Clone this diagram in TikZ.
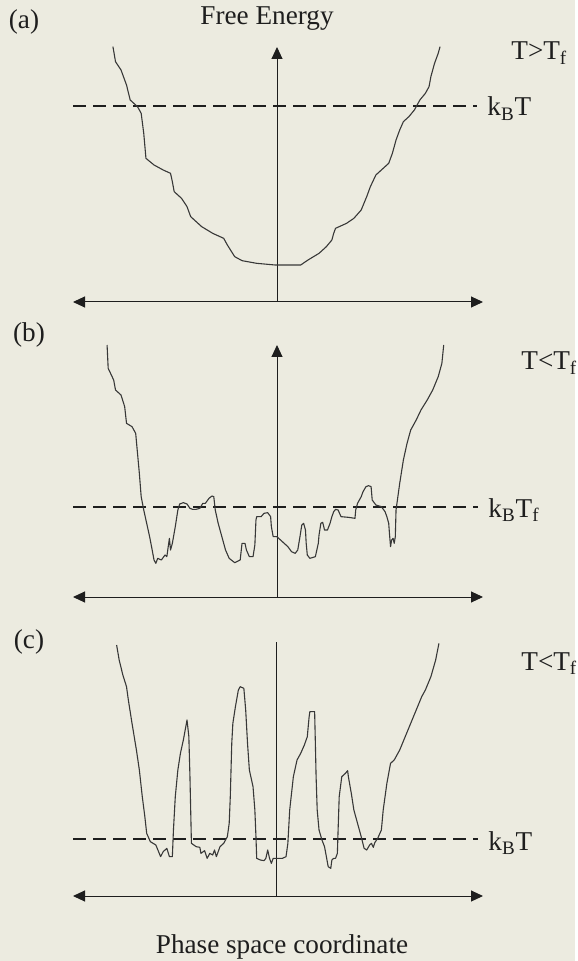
\documentclass[tikz,border=0pt]{standalone}
\usepackage{fontspec}
\setmainfont{Liberation Serif}
\usetikzlibrary{arrows.meta}
\definecolor{PaperBg}{HTML}{ECEBE0}
\definecolor{InkBlack}{HTML}{1E1E1E}
\definecolor{InkGrey}{HTML}{383838}
\tikzset{
    % Axes with filled triangle tips
    axis up/.style={
        -{Triangle[length=6pt,width=5.5pt]},
        line width=0.5pt,
        color=InkBlack
    },
    axis plain/.style={
        line width=0.5pt,
        color=InkBlack
    },
    axis both/.style={
        {Triangle[length=6pt,width=5.5pt]}-{Triangle[length=6pt,width=5.5pt]},
        line width=0.5pt,
        color=InkBlack
    },
    level line/.style={
        line width=0.9pt,
        dash pattern=on 6.5pt off 3.5pt,
        color=InkBlack
    },
    landscape/.style={
        line width=0.55pt,
        color=InkGrey,
        line join=round
    },
    label text/.style={
        inner sep=0pt,
        text=InkBlack,
        font=\fontsize{13.6}{16}\selectfont
    }
}

\begin{document}
\begin{tikzpicture}[x=0.5pt, y=-0.5pt]
        % Paper
        \fill[PaperBg] (0,0) rectangle (575,961);

        % Panel labels and titles
        \node[label text, anchor=base] (lbla) at (24,29) {(a)};
        \node[label text, anchor=base] (lblb) at (29,342) {(b)};
        \node[label text, anchor=base] (lblc) at (29,648) {(c)};
        \node[label text, anchor=base] (energy) at (267,25) {Free Energy};
        \node[label text, anchor=base] (phase) at (282,953) {Phase space coordinate};

        % Temperature labels
        \node[label text, anchor=base west] (tempa) at (511,60) {T>T\textsubscript{f}};
        \node[label text, anchor=base west] (tempb) at (521,370) {T<T\textsubscript{f}};
        \node[label text, anchor=base west] (tempc) at (521,670) {T<T\textsubscript{f}};

        % Axis end points
        \coordinate (atop) at (277,47);
        \coordinate (abot) at (277,302);
        \coordinate (aleft) at (73,302);
        \coordinate (aright) at (483,302);
        \coordinate (btop) at (277,345);
        \coordinate (bbot) at (277,597);
        \coordinate (bleft) at (73,597);
        \coordinate (bright) at (483,597);
        \coordinate (ctop) at (276,642);
        \coordinate (cbot) at (276,896);
        \coordinate (cleft) at (73,896);
        \coordinate (cright) at (483,896);

        % Axes
        \draw[axis up] (abot) -- (atop);
        \draw[axis both] (aleft) -- (aright);
        \draw[axis up] (bbot) -- (btop);
        \draw[axis both] (bleft) -- (bright);
        \draw[axis plain] (cbot) -- (ctop);
        \draw[axis both] (cleft) -- (cright);

        % Thermal energy levels
        \node[label text, anchor=base west] (kta) at (487,116) {k\textsubscript{B}T};
        \node[label text, anchor=base west] (ktb) at (488,517) {k\textsubscript{B}T\textsubscript{f}};
        \node[label text, anchor=base west] (ktc) at (488,850) {k\textsubscript{B}T};
        \coordinate (dasha) at (73,106);
        \coordinate (dashb) at (73,507);
        \coordinate (dashc) at (73,839);
        \draw[level line] (dasha) -- ([xshift=-5pt]kta.west |- dasha);
        \draw[level line] (dashb) -- ([xshift=-5pt]ktb.west |- dashb);
        \draw[level line] (dashc) -- ([xshift=-5pt]ktc.west |- dashc);

        % Landscape (a)
        \begin{scope}[xscale=575/1568, yscale=1/3]
        \draw[landscape] plot coordinates {
            (308,140) (315,185) (330,210) (345,255) (355,300) (375,320) (385,340)
            (392,400) (398,475) (420,495) (445,510) (465,520) (470,545) (475,575)
            (495,595) (510,620) (520,650) (550,680) (580,700) (610,715) (620,735)
            (640,770) (660,782) (700,790) (750,795) (820,795) (840,780) (870,760)
            (890,740) (905,720) (910,700) (915,685) (945,670) (965,655) (985,630)
            (1000,590) (1010,560) (1025,525) (1040,510) (1050,500) (1060,490)
            (1070,460) (1080,420) (1090,390) (1100,365) (1115,350) (1130,330)
            (1145,300) (1160,280) (1170,260) (1175,230) (1185,190) (1195,160) (1200,140)};
        \end{scope}

        % Landscape (b)
        \begin{scope}[shift={(0,310)}, xscale=575/1568, yscale=1/3]
        \draw[landscape] plot coordinates {
            (292,105) (295,175) (310,210) (315,240) (330,255) (340,290) (345,340)
            (360,350) (370,370) (375,430) (380,490) (385,560) (392,600) (400,640)
            (408,680) (415,720) (420,750) (425,760) (430,745) (440,750) (450,735)
            (455,740) (460,700) (462,685) (465,720) (470,700) (478,650) (485,600)
            (490,582) (500,578) (510,582) (518,595) (525,598) (535,598) (545,595)
            (553,580) (560,580) (570,565) (578,558) (583,560) (587,600) (595,640)
            (605,680) (615,720) (625,745) (640,758) (655,750) (660,700) (668,700)
            (672,720) (680,740) (690,740) (695,705) (698,630) (700,620) (712,620)
            (720,610) (730,608) (738,620) (740,650) (745,680) (755,680) (770,695)
            (785,710) (795,725) (805,730) (812,720) (818,680) (823,645) (828,640)
            (833,660) (835,700) (838,735) (845,745) (860,740) (868,700) (870,675)
            (875,640) (880,637) (885,660) (893,660) (900,640) (905,620) (910,605)
            (915,598) (922,600) (930,620) (950,622) (968,625) (970,600) (975,580)
            (985,560) (990,545) (998,530) (1005,527) (1012,530) (1015,570)
            (1025,585) (1040,590) (1050,605) (1055,620) (1060,640) (1062,670)
            (1065,710) (1068,690) (1072,685) (1075,700) (1078,680) (1080,600)
            (1090,520) (1100,450) (1110,400) (1120,360) (1135,330) (1148,300)
            (1165,270) (1180,240) (1195,200) (1205,160) (1210,105)};
        \end{scope}

        % Landscape (c)
        \begin{scope}[shift={(0,610)}, xscale=575/1568, yscale=1/3]
        \draw[landscape] plot coordinates {
            (318,105) (325,150) (335,195) (345,230) (350,270) (360,340) (372,420)
            (380,480) (388,560) (395,620) (400,670) (410,695) (425,705) (438,740)
            (445,725) (455,715) (462,740) (470,740) (473,660) (478,560) (485,480)
            (492,430) (500,390) (510,330) (515,380) (518,500) (520,600) (522,700)
            (535,710) (545,712) (548,730) (558,722) (565,745) (572,730) (580,735)
            (585,720) (590,740) (600,710) (610,700) (620,680) (625,640) (628,560)
            (632,400) (635,340) (642,290) (650,240) (655,230) (665,235) (670,300)
            (675,400) (680,480) (690,530) (695,600) (698,680) (700,745) (710,750)
            (720,752) (725,745) (730,720) (735,745) (740,760) (745,745) (755,745)
            (770,745) (780,740) (785,700) (790,600) (800,500) (810,450) (820,430)
            (830,405) (838,380) (843,320) (845,305) (858,305) (860,400) (862,500)
            (865,600) (870,660) (878,690) (885,710) (890,740) (895,770) (902,775)
            (905,750) (910,745) (915,745) (920,730) (922,660) (925,560) (932,500)
            (942,490) (948,482) (950,500) (958,550) (965,600) (975,640) (985,680)
            (993,715) (1000,720) (1008,705) (1013,700) (1018,712) (1022,698)
            (1030,685) (1040,660) (1045,600) (1055,520) (1065,460) (1075,450)
            (1090,420) (1105,380) (1120,340) (1135,300) (1150,260) (1160,240)
            (1175,200) (1188,150) (1197,100)};
        \end{scope}
    \end{tikzpicture}
\end{document}
